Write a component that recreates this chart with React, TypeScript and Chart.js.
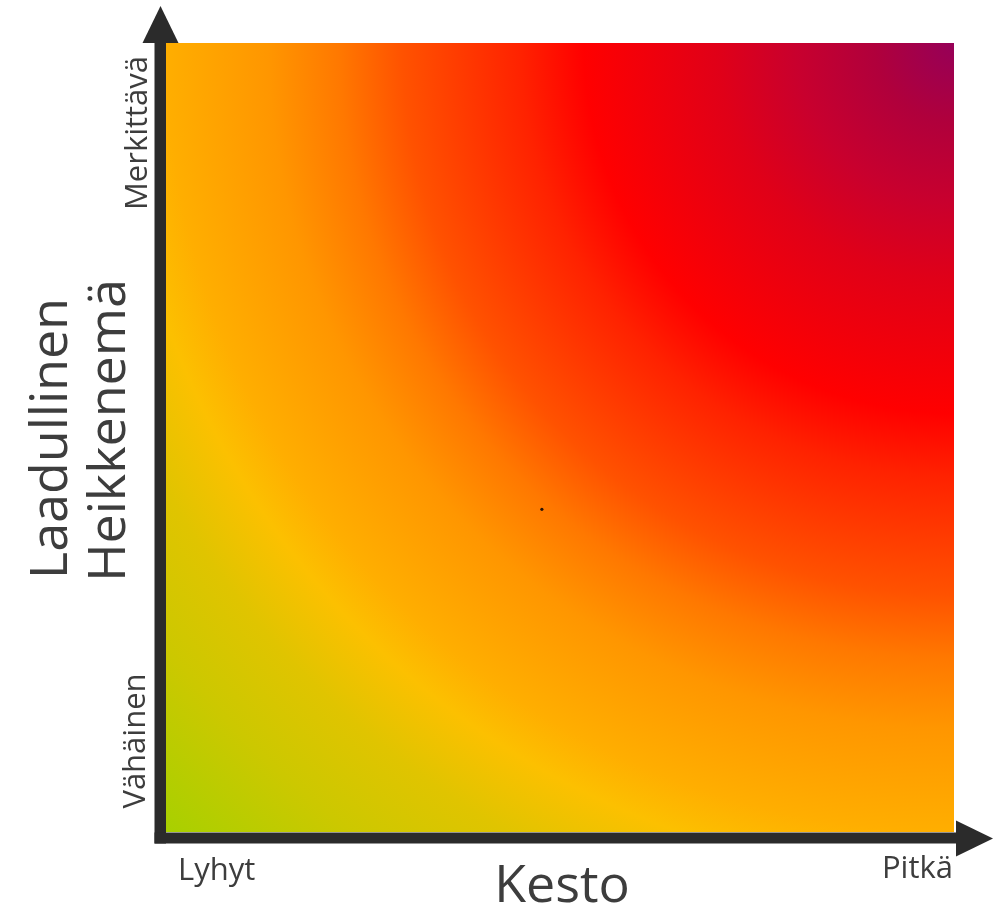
import React, { useEffect, useRef } from 'react';
import { Chart, registerables } from 'chart.js';

Chart.register(...registerables);

// ---- data ----
const xCategories = ['Lyhyt', 'Pitkä'];
const yCategories = ['Vähäinen', 'Merkittävä'];
const xAxisTitle = 'Kesto';
const yAxisTitle = ['Laadullinen', 'Heikkenemä'];
const markerX = [0.477];
const markerY = [0.409];
// risk scale: distance from the high/high corner (in side lengths) -> colour
const riskDistance = [0, 0.1, 0.2, 0.3, 0.47, 0.55, 0.7, 0.78, 0.87, 1.0, 1.06, 1.15, 1.26, 1.414];
const riskColours = ['#960058', '#b0003c', '#c8002e', '#e00018', '#ff0000', '#ff2200', '#ff5200', '#ff7800', '#ff9600', '#ffae00', '#fcc000', '#e0c400', '#ccc800', '#a8d000'];

const AXIS_COLOR = '#2b2b2b';
const TEXT_COLOR = '#3d3d3d';
const FONT = "'Open Sans', 'DejaVu Sans', sans-serif";

const riskPlugin = {
  id: 'riskMatrix',
  beforeDatasetsDraw(chart: any) {
    const { ctx } = chart;
    const xs = chart.scales.x;
    const ys = chart.scales.y;
    const left = xs.getPixelForValue(0);
    const right = xs.getPixelForValue(1);
    const top = ys.getPixelForValue(1);
    const bottom = ys.getPixelForValue(0);
    const side = right - left;
    const maxD = riskDistance[riskDistance.length - 1];
    const g = ctx.createRadialGradient(right, top, 0, right, top, side * maxD);
    riskDistance.forEach((d, i) => g.addColorStop(d / maxD, riskColours[i]));
    ctx.save();
    ctx.fillStyle = g;
    ctx.fillRect(left, top, right - left, bottom - top);
    ctx.restore();
  },
  afterDraw(chart: any) {
    const { ctx } = chart;
    const xs = chart.scales.x;
    const ys = chart.scales.y;
    const left = xs.getPixelForValue(0);
    const right = xs.getPixelForValue(1);
    const top = ys.getPixelForValue(1);
    const bottom = ys.getPixelForValue(0);
    ctx.save();
    ctx.fillStyle = AXIS_COLOR;
    // y axis bar
    ctx.fillRect(left - 11.5, top, 11.5, bottom + 11.5 - top);
    // x axis bar
    ctx.fillRect(left - 11.5, bottom + 0.5, right + 2 - (left - 11.5), 11);
    // up arrow
    ctx.beginPath();
    ctx.moveTo(left - 23.5, top);
    ctx.lineTo(left + 12.5, top);
    ctx.lineTo(left - 5.5, top - 37);
    ctx.closePath();
    ctx.fill();
    // right arrow
    ctx.beginPath();
    ctx.moveTo(right + 2, bottom + 6.5 - 18);
    ctx.lineTo(right + 2, bottom + 6.5 + 18);
    ctx.lineTo(right + 39, bottom + 6.5);
    ctx.closePath();
    ctx.fill();

    // texts
    ctx.fillStyle = TEXT_COLOR;
    ctx.textBaseline = 'alphabetic';
    ctx.font = `31px ${FONT}`;
    ctx.textAlign = 'left';
    ctx.fillText(xCategories[0], left + 12, bottom + 48);
    ctx.textAlign = 'right';
    ctx.fillText(xCategories[1], right - 1, bottom + 46);

    ctx.font = `52px ${FONT}`;
    ctx.textAlign = 'center';
    ctx.fillText(xAxisTitle, (left + right) / 2 + 2, bottom + 70);

    const rot = (text: string, x: number, y: number, font: string) => {
      ctx.save();
      ctx.font = font;
      ctx.translate(x, y);
      ctx.rotate(-Math.PI / 2);
      ctx.textAlign = 'center';
      ctx.fillText(text, 0, 0);
      ctx.restore();
    };
    rot(yCategories[1], left - 19, top + 90, `31px ${FONT}`);
    rot(yCategories[0], left - 21, bottom - 91, `31px ${FONT}`);
    const mid = (top + bottom) / 2;
    rot(yAxisTitle[0], 67, mid + 1, `52px ${FONT}`);
    rot(yAxisTitle[1], 125, mid - 7, `52px ${FONT}`);
    ctx.restore();
  },
};

export default function App() {
  const ref = useRef<HTMLCanvasElement | null>(null);
  useEffect(() => {
    if (!ref.current) return;
    const chart = new Chart(ref.current, {
      type: 'scatter',
      data: {
        datasets: [
          {
            data: markerX.map((x, i) => ({ x, y: markerY[i] })),
            pointRadius: 1.6,
            pointBackgroundColor: '#2a1408',
            pointBorderWidth: 0,
          },
        ],
      },
      options: {
        animation: false,
        responsive: false,
        layout: { padding: { left: 166, top: 43, right: 48, bottom: 72 } },
        scales: {
          x: { type: 'linear', min: 0, max: 1, display: false },
          y: { type: 'linear', min: 0, max: 1, display: false },
        },
        plugins: { legend: { display: false }, tooltip: { enabled: false } },
        events: [],
      },
      plugins: [riskPlugin],
    });
    return () => chart.destroy();
  }, []);
  return (
    <div style={{ position: 'absolute', left: 0, top: 0, width: 1002, height: 904, background: '#fff' }}>
      <canvas ref={ref} width={1002} height={904} style={{ display: 'block' }} />
    </div>
  );
}
